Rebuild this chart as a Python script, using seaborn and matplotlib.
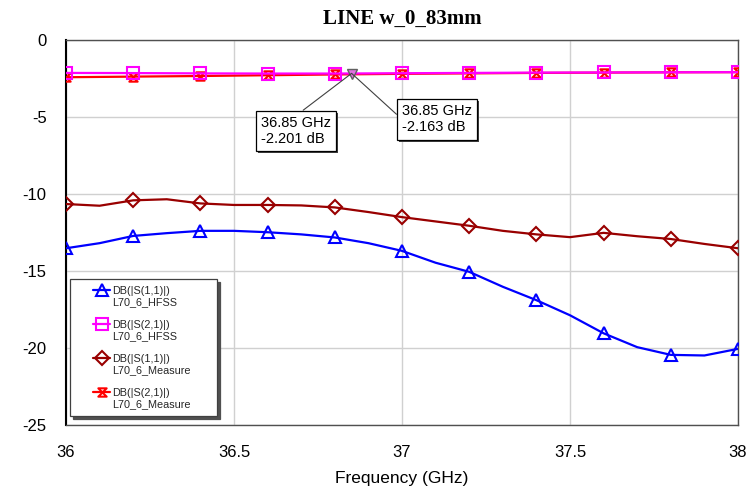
import numpy as np
import pandas as pd
import matplotlib
matplotlib.use('Agg')
import matplotlib.pyplot as plt
import matplotlib.patheffects as pe
from matplotlib.path import Path
from matplotlib.lines import Line2D
from matplotlib.legend_handler import HandlerLine2D
from matplotlib.ticker import FormatStrFormatter
import seaborn as sns

# ── Data ──────────────────────────────────────────────────────────
freq_s11 = [36.0, 36.1, 36.2, 36.3, 36.4, 36.5, 36.6, 36.7, 36.8, 36.9, 37.0,
            37.1, 37.2, 37.3, 37.4, 37.5, 37.6, 37.7, 37.8, 37.9, 38.0]
s11_hfss = [-13.50, -13.17, -12.70, -12.52, -12.37, -12.37, -12.46, -12.60, -12.80, -13.17, -13.67,
            -14.44, -15.03, -16.00, -16.87, -17.85, -19.02, -19.92, -20.42, -20.46, -20.03]
s11_meas = [-10.63, -10.74, -10.39, -10.32, -10.59, -10.69, -10.69, -10.72, -10.85, -11.15, -11.48,
            -11.76, -12.04, -12.37, -12.60, -12.78, -12.50, -12.72, -12.90, -13.22, -13.50]

freq_s21 = [36.0, 36.2, 36.4, 36.6, 36.8, 37.0, 37.2, 37.4, 37.6, 37.8, 38.0]
s21_hfss = [-2.12, -2.13, -2.15, -2.16, -2.16, -2.14, -2.12, -2.10, -2.09, -2.08, -2.07]
s21_meas = [-2.40, -2.36, -2.32, -2.27, -2.22, -2.18, -2.15, -2.12, -2.10, -2.08, -2.07]

marker_freq = 36.85
marker_db = [-2.201, -2.163]

labels = ['DB(|S(1,1)|)\nL70_6_HFSS', 'DB(|S(2,1)|)\nL70_6_HFSS',
          'DB(|S(1,1)|)\nL70_6_Measure', 'DB(|S(2,1)|)\nL70_6_Measure']

# ── Style ─────────────────────────────────────────────────────────
sns.set_theme(style='white')
plt.rcParams['font.family'] = ['Liberation Sans', 'DejaVu Sans']
plt.rcParams['axes.unicode_minus'] = False

BLUE = '#0000FF'
MAGENTA = '#FF00FF'
DARKRED = '#990000'
RED = '#FF0000'
GRID = '#D0D0D0'

hourglass = Path([(-1, 1), (1, 1), (-1, -1), (1, -1), (-1, 1)],
                 [Path.MOVETO, Path.LINETO, Path.LINETO, Path.LINETO, Path.CLOSEPOLY])


class FirstLineHandler(HandlerLine2D):
    # legend handle sits next to the first line of a two-line label
    def create_artists(self, legend, orig_handle, xdescent, ydescent,
                       width, height, fontsize, trans):
        arts = super().create_artists(legend, orig_handle, xdescent, ydescent,
                                      width, height, fontsize, trans)
        for a in arts:
            a.set_ydata(np.asarray(a.get_ydata()) + 0.6 * fontsize)
        return arts


fig = plt.figure(figsize=(7.5, 4.97), dpi=100)
ax = fig.add_axes([0.088, 0.144, 0.896, 0.775])

common = dict(linewidth=1.6, markerfacecolor='none', markeredgewidth=1.5, ax=ax)

sns.lineplot(x=freq_s11, y=s11_hfss, color=BLUE, marker='^', markersize=8,
             markeredgecolor=BLUE, markevery=2, zorder=4, label=labels[0], **common)
sns.lineplot(x=freq_s21, y=s21_meas, color=RED, marker=hourglass, markersize=6,
             markeredgecolor=RED, zorder=3, label=labels[3], **common)
sns.lineplot(x=freq_s21, y=s21_hfss, color=MAGENTA, marker='s', markersize=9,
             markeredgecolor=MAGENTA, zorder=4, label=labels[1], **common)
sns.lineplot(x=freq_s11, y=s11_meas, color=DARKRED, marker='D', markersize=7,
             markeredgecolor=DARKRED, markevery=2, zorder=4, label=labels[2], **common)

ax.plot([marker_freq], [np.mean(marker_db)], marker='v', markersize=7,
        markerfacecolor='#E070E0', markeredgecolor='#606060', markeredgewidth=1, zorder=6)

# annotation boxes
box = dict(boxstyle='square,pad=0.35', fc='white', ec='black', lw=0.9)
a1 = ax.annotate(f'{marker_freq} GHz\n{marker_db[0]:.3f} dB', xy=(marker_freq, -2.15),
                 xytext=(36.58, -4.9), ha='left', va='top', fontsize=10.5, color='black',
                 bbox=box, zorder=7,
                 arrowprops=dict(arrowstyle='-', color='#404040', lw=0.8,
                                 relpos=(0.5, 1.0), shrinkA=0, shrinkB=0))
a2 = ax.annotate(f'{marker_freq} GHz\n{marker_db[1]:.3f} dB', xy=(marker_freq, -2.15),
                 xytext=(37.0, -4.15), ha='left', va='top', fontsize=10.5, color='black',
                 bbox=box, zorder=7,
                 arrowprops=dict(arrowstyle='-', color='#404040', lw=0.8,
                                 relpos=(0.0, 0.5), shrinkA=0, shrinkB=0))
for a in (a1, a2):
    a.get_bbox_patch().set_path_effects([
        pe.SimplePatchShadow(offset=(1.5, -1.5), shadow_rgbFace='#404040', alpha=1),
        pe.Normal()])

# axes
ax.set_xlim(36, 38)
ax.set_ylim(-25, 0)
ax.set_xticks([36, 36.5, 37, 37.5, 38])
ax.set_yticks([0, -5, -10, -15, -20, -25])
ax.xaxis.set_major_formatter(FormatStrFormatter('%g'))
ax.grid(True, color=GRID, linewidth=1.0, linestyle='-')
ax.set_axisbelow(True)
ax.tick_params(length=0, labelsize=12, colors='black')
ax.tick_params(axis='y', pad=14)
ax.tick_params(axis='x', pad=14)
for side in ['top', 'right', 'bottom']:
    ax.spines[side].set_color('#505050')
    ax.spines[side].set_linewidth(1.0)
ax.spines['left'].set_color('black')
ax.spines['left'].set_linewidth(1.5)

ax.set_xlabel('Frequency (GHz)', fontsize=12.5, color='black', labelpad=8)
ax.set_ylabel('')
ax.set_title('LINE w_0_83mm', fontsize=15, fontweight='bold', color='black',
             family=['Liberation Serif', 'DejaVu Serif'], pad=12)

# legend
handles, labs = ax.get_legend_handles_labels()
order = [labs.index(l) for l in labels]
leg = ax.legend([handles[i] for i in order], [labs[i] for i in order],
                loc='lower left', bbox_to_anchor=(0.006, 0.025, 0.219, 0.35),
                mode='expand', borderaxespad=0,
                fontsize=7.8, frameon=True, fancybox=False, edgecolor='#404040',
                framealpha=1, shadow={'color': '#505050', 'alpha': 1},
                handlelength=3.1, handletextpad=0.2, labelspacing=1.15,
                borderpad=0.6, numpoints=1,
                handler_map={Line2D: FirstLineHandler(xpad=1.55, numpoints=1)})
leg.get_frame().set_linewidth(0.9)

fig.savefig('out.png', dpi=100, facecolor='white')
